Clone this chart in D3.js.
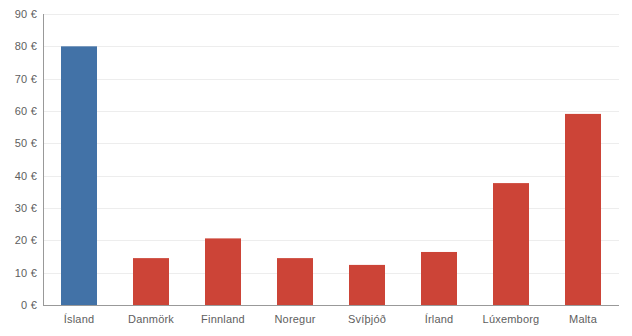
<!DOCTYPE html>
<html lang="is">

<head>
    <meta charset="UTF-8">
    <title>Bar chart</title>
    <script src="https://cdn.jsdelivr.net/npm/d3@7"></script>
    <style>
        * {
            margin: 0;
            padding: 0;
        }

        body {
            background: #fff;
        }

        svg text {
            font-family: "Liberation Sans", Arial, sans-serif;
            font-size: 11px;
            fill: #5e5e5e;
            letter-spacing: 0.2px;
        }
    </style>
</head>

<body>
    <script>
        const width = 632;
        const height = 336;

        const countries = ["Ísland", "Danmörk", "Finnland", "Noregur", "Svíþjóð", "Írland", "Lúxemborg", "Malta"];
        const values = [80, 14.5, 20.6, 14.5, 12.4, 16.4, 37.7, 59.1];
        const yTicks = [0, 10, 20, 30, 40, 50, 60, 70, 80, 90];

        const margin = { top: 14, right: 13, bottom: 31, left: 43 };

        const svg = d3.select("body").append("svg")
            .attr("width", width)
            .attr("height", height);

        const x = d3.scaleBand()
            .domain(countries)
            .range([margin.left, width - margin.right])
            .paddingInner(0.5)
            .paddingOuter(0.25);

        const y = d3.scaleLinear()
            .domain([0, 90])
            .range([height - margin.bottom, margin.top]);

        // gridlines
        svg.append("g")
            .selectAll("line")
            .data(yTicks.slice(1))
            .join("line")
            .attr("x1", margin.left)
            .attr("x2", width - margin.right)
            .attr("y1", d => Math.round(y(d)) + 0.5)
            .attr("y2", d => Math.round(y(d)) + 0.5)
            .attr("stroke", "#ededed");

        // bars
        svg.append("g")
            .selectAll("rect")
            .data(countries)
            .join("rect")
            .attr("x", d => x(d))
            .attr("width", x.bandwidth())
            .attr("y", (d, i) => y(values[i]))
            .attr("height", (d, i) => y(0) - y(values[i]))
            .attr("fill", (d, i) => i === 0 ? "#4272a7" : "#cc4437");

        // y axis labels
        const yAxis = svg.append("g")
            .attr("transform", `translate(${margin.left},0)`)
            .call(d3.axisLeft(y).tickValues(yTicks).tickSize(0).tickPadding(6).tickFormat(d => d + " €"));
        yAxis.select(".domain").remove();
        yAxis.attr("font-family", null).attr("font-size", null);

        // x axis labels
        const xAxis = svg.append("g")
            .attr("transform", `translate(0,${height - margin.bottom})`)
            .call(d3.axisBottom(x).tickSize(0).tickPadding(10));
        xAxis.select(".domain").remove();
        xAxis.attr("font-family", null).attr("font-size", null);

        // axis lines
        svg.append("line")
            .attr("x1", margin.left + 0.5)
            .attr("x2", margin.left + 0.5)
            .attr("y1", margin.top)
            .attr("y2", Math.round(y(0)) + 0.5)
            .attr("stroke", "#999");
        svg.append("line")
            .attr("x1", margin.left)
            .attr("x2", width - margin.right)
            .attr("y1", Math.round(y(0)) + 0.5)
            .attr("y2", Math.round(y(0)) + 0.5)
            .attr("stroke", "#999");
    </script>
</body>

</html>
